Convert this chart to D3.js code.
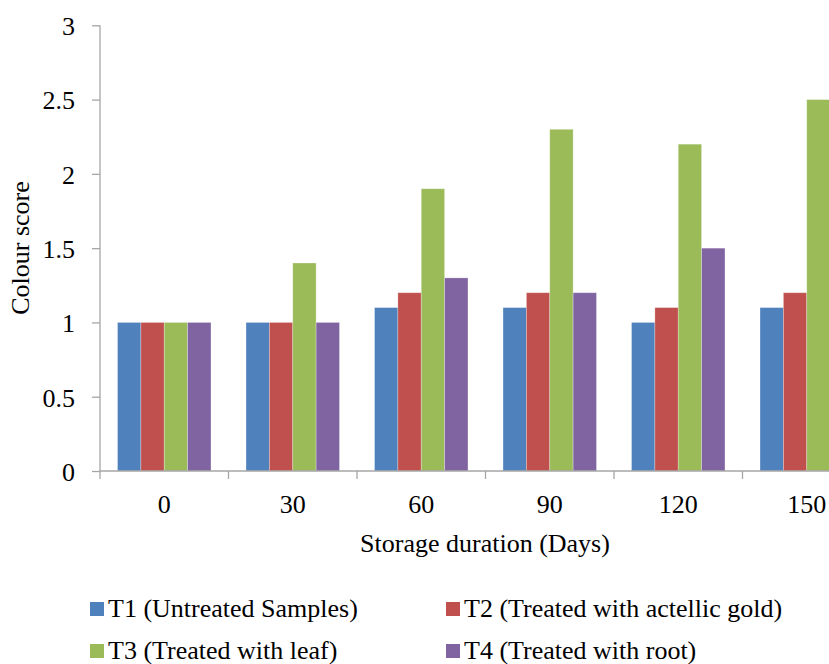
<!DOCTYPE html>
<html><head><meta charset="utf-8">
<script src="https://cdn.jsdelivr.net/npm/d3@7/dist/d3.min.js"></script>
</head><body style="margin:0;background:#fff"><svg id="c" width="829" height="664"></svg>
<script>
const categories = ["0","30","60","90","120","150"];
const seriesNames = ["T1 (Untreated Samples)","T2 (Treated with actellic gold)","T3 (Treated with leaf)","T4 (Treated with root)"];
const T1 = [1.0,1.0,1.1,1.1,1.0,1.1];
const T2 = [1.0,1.0,1.2,1.2,1.1,1.2];
const T3 = [1.0,1.4,1.9,2.3,2.2,2.5];
const T4 = [1.0,1.0,1.3,1.2,1.5,1.2];
const yTicks = [0,0.5,1,1.5,2,2.5,3];
const colors = ["#4F81BD","#C0504D","#9BBB59","#8064A2"];
const series = [T1,T2,T3,T4];
const FONT = "'Liberation Serif', 'Times New Roman', Tinos, serif";
const FS = "26px";

const svg = d3.select("#c");
const x0 = 100, x1 = 100 + 128.5*6, yTop = 25.3, yBot = 471;
const x = d3.scaleBand().domain(categories).range([x0,x1]).paddingInner(0).paddingOuter(0);
const bw = x.bandwidth()/5.5;
const xs = d3.scaleBand().domain(d3.range(4)).range([0.75*bw, 0.75*bw+4*bw]);
const y = d3.scaleLinear().domain([0,3]).range([yBot,yTop]);

function txt(sel){ return sel.style("font-family",FONT,"important").style("font-size",FS,"important").attr("fill","#000"); }

const g = svg.append("g");
series.forEach((s,si)=>{
  g.selectAll(null).data(s).enter().append("rect")
   .attr("x",(d,i)=>x(categories[i])+xs(si))
   .attr("y",d=>y(d))
   .attr("width",xs.bandwidth())
   .attr("height",d=>yBot-y(d))
   .attr("fill",colors[si])
   .attr("stroke","rgba(255,255,255,0.35)").attr("stroke-width",0.8);
});

// y axis
const ya = svg.append("g").attr("transform",`translate(${x0},0)`)
  .call(d3.axisLeft(y).tickValues(yTicks).tickFormat(d=>String(d)).tickSize(8).tickPadding(17));
ya.attr("font-family",null).attr("font-size",null);
ya.select(".domain").attr("stroke","#a6a6a6").attr("stroke-width",1.3).attr("d",`M0,${yTop}V${yBot}`);
ya.selectAll(".tick line").attr("stroke","#a6a6a6").attr("stroke-width",1.3);
txt(ya.selectAll(".tick text")).attr("dy","0.36em");

// x axis
const xa = svg.append("g").attr("transform",`translate(0,${yBot})`);
xa.append("line").attr("x1",x0).attr("x2",x1).attr("y1",0).attr("y2",0).attr("stroke","#a6a6a6").attr("stroke-width",1.3);
const bounds = categories.map(c=>x(c)).concat([x1]);
xa.selectAll(null).data(bounds).enter().append("line")
  .attr("x1",d=>d).attr("x2",d=>d).attr("y1",0).attr("y2",8).attr("stroke","#a6a6a6").attr("stroke-width",1.3);
txt(xa.selectAll(null).data(categories).enter().append("text")
  .attr("x",d=>x(d)+x.bandwidth()/2).attr("y",42).attr("text-anchor","middle")).text(d=>d);

// titles
txt(svg.append("text").attr("x",485).attr("y",552).attr("text-anchor","middle")).text("Storage duration (Days)");
txt(svg.append("text").attr("transform","translate(29,248) rotate(-90)").attr("text-anchor","middle")).text("Colour score");

// legend
const leg = [{x:90,y:602},{x:446,y:602},{x:90,y:644},{x:446,y:644}];
seriesNames.forEach((n,i)=>{
  const p = leg[i];
  svg.append("rect").attr("x",p.x).attr("y",p.y).attr("width",14).attr("height",14).attr("fill",colors[i]);
  txt(svg.append("text").attr("x",p.x+18).attr("y",p.y+15)).text(n);
});
</script></body></html>
